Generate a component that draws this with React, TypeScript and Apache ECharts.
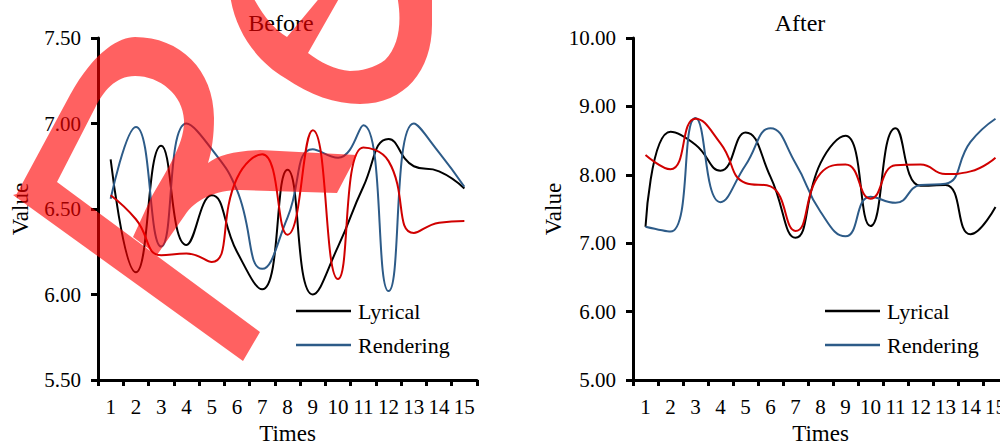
import React, { useEffect, useRef } from 'react';
import * as echarts from 'echarts';

const categories = ['1', '2', '3', '4', '5', '6', '7', '8', '9', '10', '11', '12', '13', '14', '15'];

const lyricalBefore = [6.79, 6.13, 6.87, 6.29, 6.58, 6.25, 6.03, 6.73, 6.0, 6.28, 6.63, 6.91, 6.75, 6.72, 6.62];
const renderingBefore = [6.56, 6.98, 6.28, 7.0, 6.85, 6.61, 6.15, 6.45, 6.85, 6.8, 6.99, 6.02, 7.0, 6.83, 6.63];
const thirdBefore = [6.58, 6.44, 6.23, 6.24, 6.19, 6.68, 6.82, 6.35, 6.96, 6.09, 6.86, 6.78, 6.36, 6.42, 6.43];

const lyricalAfter = [7.24, 8.63, 8.44, 8.06, 8.62, 7.97, 7.08, 8.17, 8.57, 7.25, 8.68, 7.84, 7.85, 7.13, 7.53];
const renderingAfter = [7.24, 7.17, 8.83, 7.6, 8.14, 8.68, 8.17, 7.46, 7.1, 7.68, 7.59, 7.85, 7.87, 8.48, 8.82];
const thirdAfter = [8.29, 8.08, 8.82, 8.46, 7.88, 7.83, 7.18, 8.02, 8.15, 7.65, 8.14, 8.15, 8.01, 8.05, 8.25];

const titles = ['Before', 'After'];
const seriesNames = ['Lyrical', 'Rendering', 'Other'];
const yRangeBefore = [5.5, 7.5, 0.5];
const yRangeAfter = [5, 10, 1];

const R_PATH =
  'M15,197 L70,95 C95,50 120,37 135,37 C180,37 214,70 214,118 C214,135 212,150 208,163 ' +
  'C218,155 235,151 260,150 L357,155 L337,193 L240,190 C215,190 195,200 185,215 L157,255 L133,237 ' +
  'L150,200 C165,172 185,145 184,120 C183,95 160,76 135,76 C115,76 103,92 95,108 L57,182 Z ' +
  'M13,195 L57,182 L260,332 L243,361 Z';

const E_PATH =
  'M230,-5 C235,30 255,60 285,78 C310,95 335,104 360,104 C405,104 432,70 432,25 L432,-5 L397,-5 ' +
  'C402,20 400,45 385,60 C375,68 360,71 350,71 C335,70 320,62 308,53 L341,-5 L322,-5 L287,37 ' +
  'C275,30 262,15 252,-5 Z';

const FONT = 'Liberation Serif';
const COLORS = ['#000000', '#2d5b88', '#d00000'];

function axisPair(gridIndex: number, yr: number[]) {
  const x = {
    type: 'category',
    gridIndex,
    data: categories,
    boundaryGap: true,
    name: 'Times',
    nameLocation: 'middle',
    nameGap: 40,
    nameTextStyle: { fontFamily: FONT, fontSize: 23, color: '#000' },
    axisLine: { show: true, lineStyle: { color: '#000', width: 3 } },
    axisTick: { show: true, length: 6, lineStyle: { color: '#000', width: 3 } },
    axisLabel: { interval: 0, fontFamily: FONT, fontSize: 21, color: '#000', margin: 16 },
    splitLine: { show: false },
  };
  const y = {
    type: 'value',
    gridIndex,
    min: yr[0],
    max: yr[1],
    interval: yr[2],
    name: 'Value',
    nameLocation: 'middle',
    nameRotate: 90,
    nameGap: 66,
    nameTextStyle: { fontFamily: FONT, fontSize: 23, color: '#000' },
    axisLine: { show: true, lineStyle: { color: '#000', width: 3 } },
    axisTick: { show: true, length: 7, lineStyle: { color: '#000', width: 3 } },
    axisLabel: {
      fontFamily: FONT,
      fontSize: 21,
      color: '#000',
      margin: 17,
      formatter: (v: number) => v.toFixed(2),
    },
    splitLine: { show: false },
  };
  return { x, y };
}

function lineSeries(name: string, data: number[], idx: number, color: string) {
  return {
    type: 'line',
    name,
    data,
    xAxisIndex: idx,
    yAxisIndex: idx,
    smooth: 0.5,
    symbol: 'none',
    color,
    lineStyle: { color, width: 2 },
  };
}

export default function App() {
  const ref = useRef<HTMLDivElement>(null);
  useEffect(() => {
    if (!ref.current) return;
    echarts.graphic.registerShape('wmR', echarts.graphic.extendPath(R_PATH, {}));
    echarts.graphic.registerShape('wmE', echarts.graphic.extendPath(E_PATH, {}));
    const chart = echarts.init(ref.current, null, { renderer: 'svg' });
    const a0 = axisPair(0, yRangeBefore);
    const a1 = axisPair(1, yRangeAfter);
    const legendBase = {
      orient: 'vertical',
      top: 300,
      padding: 0,
      itemWidth: 55,
      itemHeight: 2.5,
      itemGap: 12,
      icon: 'rect',
      data: [seriesNames[0], seriesNames[1]],
      textStyle: { fontFamily: FONT, fontSize: 22, color: '#000', padding: [0, 0, 0, 2] },
    };
    const option = {
      animation: false,
      backgroundColor: '#ffffff',
      title: [
        { text: titles[0], left: 281, top: 11, padding: 0, textAlign: 'center', textStyle: { fontFamily: FONT, fontSize: 24, fontWeight: 'normal', color: '#000' } },
        { text: titles[1], left: 800, top: 11, padding: 0, textAlign: 'center', textStyle: { fontFamily: FONT, fontSize: 24, fontWeight: 'normal', color: '#000' } },
      ],
      grid: [
        { left: 98, top: 38, width: 379, height: 342, outerBoundsMode: 'none', containLabel: false },
        { left: 633, top: 38, width: 375, height: 342, outerBoundsMode: 'none', containLabel: false },
      ],
      legend: [
        { ...legendBase, left: 296 },
        { ...legendBase, left: 825 },
      ],
      xAxis: [a0.x, a1.x],
      yAxis: [a0.y, a1.y],
      series: [
        lineSeries(seriesNames[0], lyricalBefore, 0, COLORS[0]),
        lineSeries(seriesNames[1], renderingBefore, 0, COLORS[1]),
        lineSeries(seriesNames[2], thirdBefore, 0, COLORS[2]),
        lineSeries(seriesNames[0], lyricalAfter, 1, COLORS[0]),
        lineSeries(seriesNames[1], renderingAfter, 1, COLORS[1]),
        lineSeries(seriesNames[2], thirdAfter, 1, COLORS[2]),
      ],
      graphic: [
        { type: 'wmR', x: 0, y: 0, z: 100, silent: true, style: { fill: 'rgba(255,0,0,0.62)' } },
        { type: 'wmE', x: 0, y: 0, z: 100, silent: true, style: { fill: 'rgba(255,0,0,0.62)' } },
      ],
    };
    chart.setOption(option as any);
    return () => chart.dispose();
  }, []);
  return <div ref={ref} style={{ position: 'absolute', left: 0, top: 0, width: 1000, height: 444 }} />;
}
